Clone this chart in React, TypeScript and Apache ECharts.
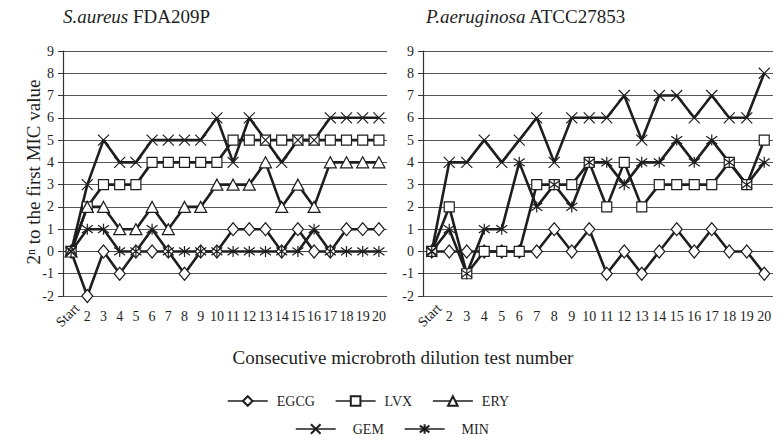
import React, { useEffect, useRef } from "react";
import * as echarts from "echarts";

const categories = ["Start", "2", "3", "4", "5", "6", "7", "8", "9", "10", "11", "12", "13", "14", "15", "16", "17", "18", "19", "20"];
const yTicks = { min: -2, max: 9, interval: 1 };

// S. aureus FDA209P
const saEGCG = [0, -2, 0, -1, 0, 0, 0, -1, 0, 0, 1, 1, 1, 0, 1, 0, 0, 1, 1, 1];
const saLVX = [0, 2, 3, 3, 3, 4, 4, 4, 4, 4, 5, 5, 5, 5, 5, 5, 5, 5, 5, 5];
const saERY = [0, 2, 2, 1, 1, 2, 1, 2, 2, 3, 3, 3, 4, 2, 3, 2, 4, 4, 4, 4];
const saGEM = [0, 3, 5, 4, 4, 5, 5, 5, 5, 6, 4, 6, 5, 4, 5, 5, 6, 6, 6, 6];
const saMIN = [0, 1, 1, 0, 0, 1, 0, 0, 0, 0, 0, 0, 0, 0, 0, 1, 0, 0, 0, 0];

// P. aeruginosa ATCC27853
const paEGCG = [0, 0, 0, 0, 0, 0, 0, 1, 0, 1, -1, 0, -1, 0, 1, 0, 1, 0, 0, -1];
const paLVX = [0, 2, -1, 0, 0, 0, 3, 3, 3, 4, 2, 4, 2, 3, 3, 3, 3, 4, 3, 5];
const paGEM = [0, 4, 4, 5, 4, 5, 6, 4, 6, 6, 6, 7, 5, 7, 7, 6, 7, 6, 6, 8];
const paMIN = [0, 1, -1, 1, 1, 4, 2, 3, 2, 4, 4, 3, 4, 4, 5, 4, 5, 4, 3, 4];

const FONT = "'Liberation Serif', 'Times New Roman', serif";
const INK = "#1e1e1e";

const SYM: Record<string, { symbol: string; size: number | number[] }> = {
  EGCG: { symbol: "diamond", size: [11, 13] },
  LVX: { symbol: "rect", size: 10 },
  ERY: { symbol: "triangle", size: [12, 11] },
  GEM: { symbol: "path://M0,0L10,10M10,0L0,10", size: 11 },
  MIN: { symbol: "path://M5,0L5,10M0,1.5L10,8.5M10,1.5L0,8.5", size: 11 },
};

function mkSeries(name: string, data: number[], idx: number) {
  return {
    name,
    type: "line",
    xAxisIndex: idx,
    yAxisIndex: idx,
    data,
    symbol: SYM[name].symbol,
    symbolSize: SYM[name].size,
    showAllSymbol: true,
    lineStyle: { color: INK, width: 2.6 },
    itemStyle: { color: "#ffffff", borderColor: INK, borderWidth: 1.2 },
    emphasis: { disabled: true },
  };
}

function mkX(idx: number) {
  return {
    type: "category",
    gridIndex: idx,
    data: categories,
    boundaryGap: true,
    axisLine: { show: true, lineStyle: { color: "#444", width: 1 } },
    axisTick: { show: false },
    axisLabel: {
      interval: 0,
      margin: 13,
      color: INK,
      fontFamily: FONT,
      fontSize: 14,
      formatter: (v: string) => (v === "Start" ? "" : v),
    },
    splitLine: { show: false },
  };
}

function mkY(idx: number) {
  return {
    type: "value",
    gridIndex: idx,
    min: yTicks.min,
    max: yTicks.max,
    interval: yTicks.interval,
    axisLine: { show: true, lineStyle: { color: "#333", width: 1.2 } },
    axisTick: { show: true, length: 5, lineStyle: { color: "#333" } },
    axisLabel: { color: INK, fontFamily: FONT, fontSize: 14, margin: 9 },
    splitLine: { show: true, lineStyle: { color: "#555", width: 1 } },
  };
}

export default function App() {
  const ref = useRef<HTMLDivElement>(null);
  useEffect(() => {
    document.body.style.margin = "0";
    if (!ref.current) return;
    const chart = echarts.init(ref.current, null, { renderer: "svg" });
    const startLabel = (x: number) => ({
      type: "text",
      x,
      y: 306,
      rotation: Math.PI / 4,
      style: {
        text: "Start",
        fontFamily: FONT,
        fontSize: 14,
        fill: INK,
        align: "right",
        verticalAlign: "middle",
      },
    });
    chart.setOption({
      animation: false,
      backgroundColor: "#ffffff",
      title: [
        {
          text: "{i|S.aureus} FDA209P",
          left: 58,
          top: 2,
          textStyle: {
            fontFamily: FONT,
            fontSize: 19,
            fontWeight: "normal",
            color: INK,
            rich: { i: { fontStyle: "italic", fontFamily: FONT, fontSize: 19, color: INK } },
          },
        },
        {
          text: "{i|P.aeruginosa} ATCC27853",
          left: 421,
          top: 2,
          textStyle: {
            fontFamily: FONT,
            fontSize: 19,
            fontWeight: "normal",
            color: INK,
            rich: { i: { fontStyle: "italic", fontFamily: FONT, fontSize: 19, color: INK } },
          },
        },
      ],
      grid: [
        { left: 63, top: 51, width: 324, height: 245 },
        { left: 423, top: 51, width: 350, height: 245 },
      ],
      xAxis: [mkX(0), mkX(1)],
      yAxis: [mkY(0), mkY(1)],
      legend: [
        {
          data: ["EGCG", "LVX", "ERY"],
          left: 222,
          top: 389,
          itemWidth: 40,
          itemHeight: 12,
          itemGap: 20,
          lineStyle: { width: 1.5 },
          textStyle: { fontFamily: FONT, fontSize: 14, color: INK, padding: [0, 0, 0, 4] },
          selectedMode: false,
        },
        {
          data: ["GEM", "MIN"],
          left: 290,
          top: 417,
          itemWidth: 40,
          itemHeight: 12,
          itemGap: 20,
          lineStyle: { width: 1.5 },
          textStyle: { fontFamily: FONT, fontSize: 14, color: INK, padding: [0, 0, 0, 12] },
          selectedMode: false,
        },
      ],
      graphic: [
        startLabel(77),
        startLabel(439),
        {
          type: "text",
          x: 403,
          y: 357,
          style: {
            text: "Consecutive microbroth dilution test number",
            fontFamily: FONT,
            fontSize: 19,
            fill: INK,
            align: "center",
            verticalAlign: "middle",
          },
        },
        {
          type: "text",
          x: 33,
          y: 172,
          rotation: Math.PI / 2,
          style: {
            text: "2ⁿ to the first MIC value",
            fontFamily: FONT,
            fontSize: 19,
            fill: INK,
            align: "center",
            verticalAlign: "middle",
          },
        },
      ],
      series: [
        mkSeries("EGCG", saEGCG, 0),
        mkSeries("LVX", saLVX, 0),
        mkSeries("ERY", saERY, 0),
        mkSeries("GEM", saGEM, 0),
        mkSeries("MIN", saMIN, 0),
        mkSeries("EGCG", paEGCG, 1),
        mkSeries("LVX", paLVX, 1),
        mkSeries("GEM", paGEM, 1),
        mkSeries("MIN", paMIN, 1),
      ],
    });
    return () => chart.dispose();
  }, []);
  return <div ref={ref} style={{ width: 784, height: 446 }} />;
}
